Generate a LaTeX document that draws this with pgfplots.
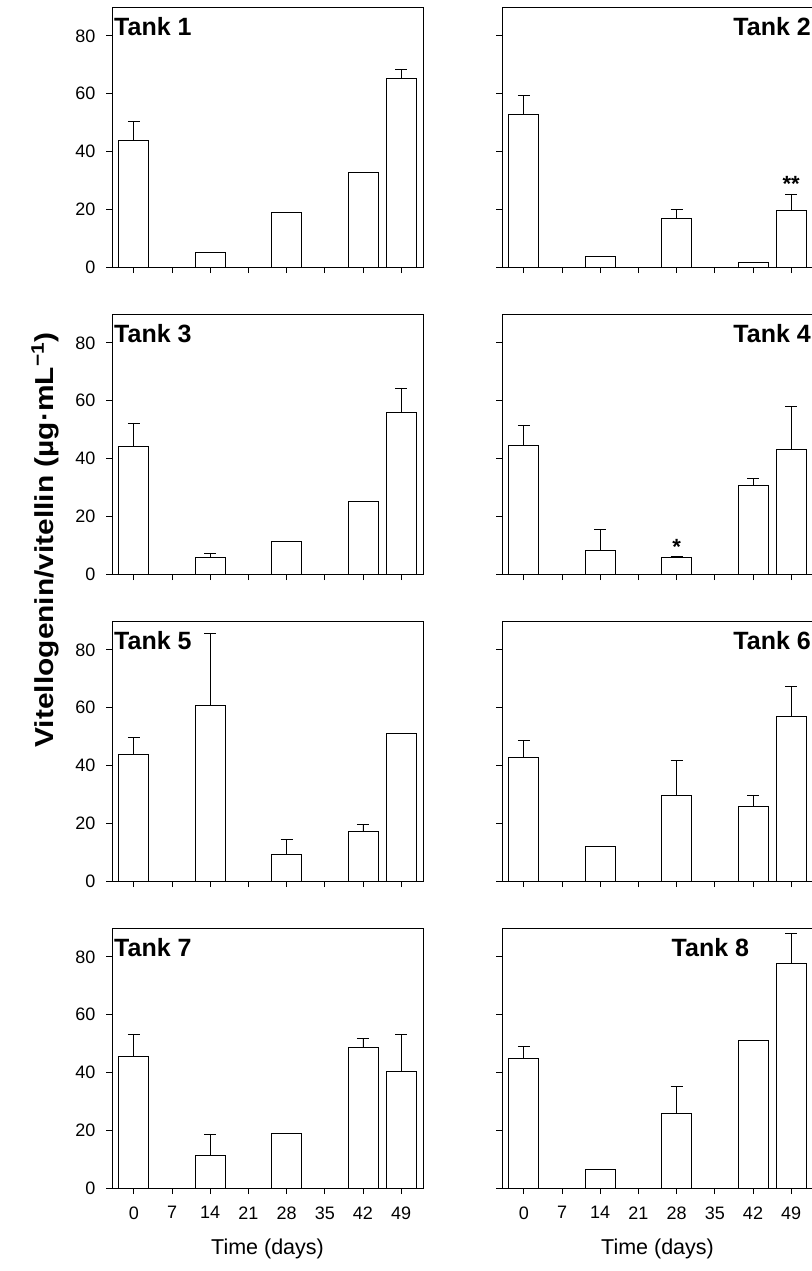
\documentclass[border=0pt]{standalone}
\usepackage{fontspec}
\setmainfont{Liberation Sans}
\usepackage{pgfplots}
\pgfplotsset{compat=1.18}
\usepgfplotslibrary{groupplots}
\usetikzlibrary{calc}

\pgfplotsset{
  tankbox/.style={
    scale only axis, width=311pt, height=260pt,
    xmin=-4, xmax=53, ymin=0, ymax=90,
    xtick={0,7,...,49}, ytick={0,20,...,80},
    tick align=outside, xtick pos=bottom, ytick pos=left,
    major tick length=6pt,
    axis line style={line width=0.8pt},
    every tick/.style={black, line width=0.8pt},
    ticklabel style={font=\fontsize{18}{21}\selectfont},
    yticklabel style={xshift=-7pt},
    xticklabel style={yshift=-9pt},
    /pgf/number format/assume math mode=true,
    xlabel style={font=\fontsize{21.5}{25}\selectfont, yshift=-13pt},
    ybar, bar width=5.5,
  },
  tank/.style={
    fill=white, draw=black, line width=0.8pt,
    error bars/.cd, y dir=plus, y explicit,
    error bar style={line width=0.8pt, black},
    error mark options={rotate=90, mark size=6pt, line width=0.8pt, black},
  },
}
\tikzset{
  tanklabel/.style={font=\bfseries\fontsize{25}{30}\selectfont, inner sep=2pt, yshift=-8pt},
  star/.style={font=\bfseries\fontsize{22}{26}\selectfont, inner sep=0pt, anchor=south},
}

\begin{document}
\begin{tikzpicture}
\begin{groupplot}[
  group style={group size=2 by 4, horizontal sep=79pt, vertical sep=47pt,
               x descriptions at=edge bottom, y descriptions at=edge left},
  tankbox,
]
% Tank 1
\nextgroupplot
\addplot[tank] coordinates {(0,43.8) +- (0,6.6) (14,5.0) +- (0,0) (28,18.9) +- (0,0) (42,32.8) +- (0,0) (49,65.3) +- (0,3.1)};
\node[tanklabel, anchor=north west] at (rel axis cs:0,1) {Tank 1};
% Tank 2
\nextgroupplot
\addplot[tank] coordinates {(0,52.7) +- (0,6.6) (14,3.6) +- (0,0) (28,16.9) +- (0,3.0) (42,1.5) +- (0,0) (49,19.5) +- (0,5.8)};
\node[tanklabel, anchor=north east] at (rel axis cs:1,1) {Tank 2};
\node[star] at (axis cs:49,26.0) {**};
% Tank 3
\nextgroupplot
\addplot[tank] coordinates {(0,44.3) +- (0,8.0) (14,5.8) +- (0,1.4) (28,11.2) +- (0,0) (42,25.0) +- (0,0) (49,56.0) +- (0,8.4)};
\node[tanklabel, anchor=north west] at (rel axis cs:0,1) {Tank 3};
% Tank 4
\nextgroupplot
\addplot[tank] coordinates {(0,44.4) +- (0,7.2) (14,8.0) +- (0,7.4) (28,5.6) +- (0,0.4) (42,30.7) +- (0,2.4) (49,43.0) +- (0,15.0)};
\node[tanklabel, anchor=north east] at (rel axis cs:1,1) {Tank 4};
\node[star] at (axis cs:28,6.6) {*};
% Tank 5
\nextgroupplot
\addplot[tank] coordinates {(0,43.7) +- (0,6.1) (14,60.9) +- (0,24.8) (28,9.3) +- (0,5.2) (42,17.0) +- (0,2.6) (49,51.1) +- (0,0)};
\node[tanklabel, anchor=north west] at (rel axis cs:0,1) {Tank 5};
% Tank 6
\nextgroupplot
\addplot[tank] coordinates {(0,42.8) +- (0,5.8) (14,11.9) +- (0,0) (28,29.8) +- (0,12.0) (42,25.7) +- (0,4.1) (49,56.9) +- (0,10.6)};
\node[tanklabel, anchor=north east] at (rel axis cs:1,1) {Tank 6};
% Tank 7
\nextgroupplot[xlabel={Time (days)}]
\addplot[tank] coordinates {(0,45.7) +- (0,7.4) (14,11.4) +- (0,7.3) (28,19.0) +- (0,0) (42,48.6) +- (0,3.3) (49,40.5) +- (0,12.7)};
\node[tanklabel, anchor=north west] at (rel axis cs:0,1) {Tank 7};
% Tank 8
\nextgroupplot[xlabel={Time (days)}]
\addplot[tank] coordinates {(0,44.7) +- (0,4.3) (14,6.4) +- (0,0) (28,25.8) +- (0,9.3) (42,51.0) +- (0,0) (49,77.6) +- (0,10.4)};
\node[tanklabel, anchor=north] at (rel axis cs:0.67,1) {Tank 8};
\end{groupplot}
\node[rotate=90, font=\bfseries\fontsize{26}{30}\selectfont]
  at ($(group c1r1.north west)+(-67pt,-533pt)$)
  {\scalebox{1.15}[1]{Vitellogenin/vitellin (µg·mL\textsuperscript{−1})}};
\pgfresetboundingbox
\path ($(group c1r1.north west)+(-112pt,7pt)$) rectangle ($(group c2r4.south east)+(-2pt,-83pt)$);
\end{tikzpicture}
\end{document}
